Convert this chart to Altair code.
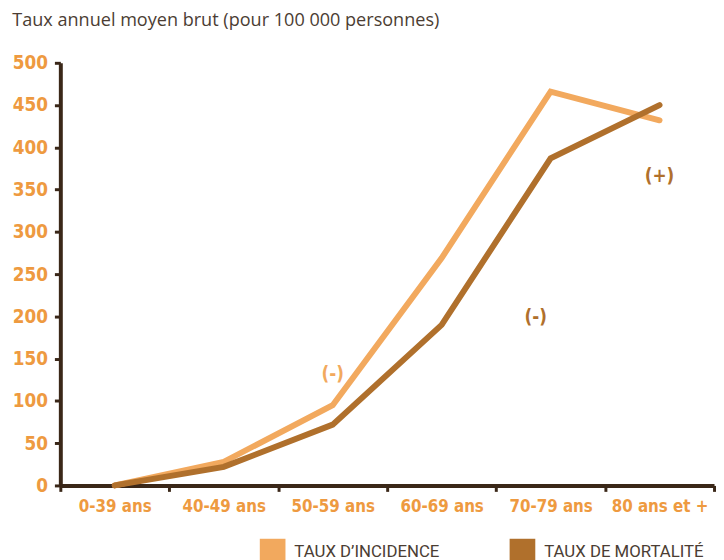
import altair as alt
import pandas as pd

cats = ["0-39 ans", "40-49 ans", "50-59 ans", "60-69 ans", "70-79 ans", "80 ans et +"]
incidence = [0, 28, 95, 269, 466, 432]
mortalite = [0, 22, 72, 190, 387, 450]
series_names = ["TAUX D\u2019INCIDENCE", "TAUX DE MORTALIT\u00c9"]
series_colors = ["#F2A95E", "#B0702C"]

ann_cat = ["50-59 ans", "70-79 ans", "80 ans et +"]
ann_val = [132, 199, 366]
ann_label = ["(-)", "(-)", "(+)"]
ann_color = ["#F2A95E", "#B0702C", "#B0702C"]

rows = []
for c, v in zip(cats, incidence):
    rows.append({"cat": c, "serie": series_names[0], "value": v})
for c, v in zip(cats, mortalite):
    rows.append({"cat": c, "serie": series_names[1], "value": v})
df = pd.DataFrame(rows)
ann = pd.DataFrame({"cat": ann_cat, "value": ann_val, "label": ann_label, "color": ann_color})

AX = "#3A2718"
LAB = "#EE9A40"
NARROW = "DejaVu Sans Condensed, Roboto, sans-serif"

x_enc = alt.X("cat:N", sort=cats, bandPosition=0.5,
              scale=alt.Scale(type="band", domain=cats, paddingInner=0, paddingOuter=0),
              axis=alt.Axis(title=None, labelAngle=0, tickBand="extent",
                            labelFont=NARROW, labelFontWeight="bold", labelFontSize=17,
                            labelColor=LAB, labelPadding=7, tickSize=6, tickWidth=3,
                            tickColor=AX, domainColor=AX, domainWidth=4))
y_enc = alt.Y("value:Q", scale=alt.Scale(domain=[0, 500], nice=False),
              axis=alt.Axis(title=None, values=list(range(0, 501, 50)), grid=False,
                            labelFont=NARROW, labelFontWeight="bold", labelFontSize=19,
                            labelColor=LAB, labelPadding=7, tickSize=6, tickWidth=3,
                            tickColor=AX, domainColor=AX, domainWidth=4))

lines = alt.Chart(df).mark_line(strokeWidth=6, strokeCap="round").encode(
    x=x_enc,
    y=y_enc,
    color=alt.Color("serie:N", sort=series_names,
                    scale=alt.Scale(domain=series_names, range=series_colors),
                    legend=alt.Legend(title=None, orient="none", legendX=202, legendY=482,
                                      direction="horizontal", symbolType="square",
                                      symbolSize=4, symbolStrokeWidth=24,
                                      labelFont="Roboto", labelFontSize=17, labelLimit=400,
                                      labelColor="#4b3d33", labelOffset=9,
                                      columnPadding=34, padding=0)),
)

ann_main = alt.Chart(ann.iloc[[0, 2]]).mark_text(
    font=NARROW, fontWeight="bold", fontSize=19
).encode(
    x=alt.X("cat:N", sort=cats, bandPosition=0.5),
    y="value:Q",
    text="label:N",
    color=alt.Color("color:N", scale=None),
)
ann_shift = alt.Chart(ann.iloc[[1]]).mark_text(
    font=NARROW, fontWeight="bold", fontSize=19, dx=-15
).encode(
    x=alt.X("cat:N", sort=cats, bandPosition=0.5),
    y="value:Q",
    text="label:N",
    color=alt.Color("color:N", scale=None),
)

chart = alt.layer(lines, ann_main, ann_shift).properties(
    width=662, height=428,
    title=alt.TitleParams("Taux annuel moyen brut (pour 100 000 personnes)",
                          anchor="start", font="Open Sans",
                          fontSize=18.3, fontWeight="normal", color="#4b3d33", offset=24),
    autosize=alt.AutoSizeParams(type="none"),
    padding={"left": 53, "top": 52, "right": 2, "bottom": 72},
).configure_view(stroke=None)

chart.save("out.html", embed_options={"renderer": "svg", "actions": False})
